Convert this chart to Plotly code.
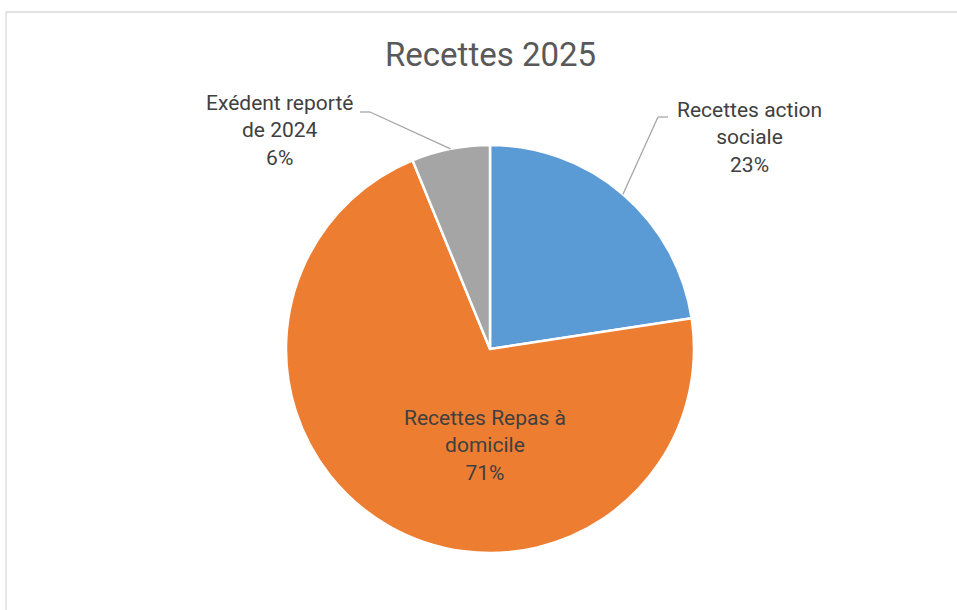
import math
import plotly.graph_objects as go

# ---- data ----
categories = ["Recettes action sociale", "Recettes Repas à domicile", "Exédent reporté de 2024"]
display_labels = ["Recettes action<br>sociale", "Recettes Repas à<br>domicile", "Exédent reporté<br>de 2024"]
values = [22.6, 71.2, 6.2]
colors = ["#5B9BD5", "#ED7D31", "#A5A5A5"]
title_text = "Recettes 2025"

# ---- layout geometry (pixels) ----
W, H = 957, 610
ML, MR, MT, MB = 80, 57, 145, 57
PW, PH = W - ML - MR, H - MT - MB
CX, CY = ML + PW / 2, MT + PH / 2
R = min(PW, PH) / 2


def px(x):
    return (x - ML) / PW


def py(y):
    return (H - MB - y) / PH


total = sum(values)
pcts = [round(v / total * 100) for v in values]

# mid-angles of slices (clockwise from 12 o'clock)
mids = []
acc = 0
for v in values:
    mids.append((acc + v / 2) / total * 2 * math.pi)
    acc += v


def edge(i):
    a = mids[i]
    return CX + R * math.sin(a), CY - R * math.cos(a)


fig = go.Figure(
    go.Pie(
        labels=categories,
        values=values,
        sort=False,
        direction="clockwise",
        rotation=0,
        marker=dict(colors=colors, line=dict(color="white", width=2.5)),
        textinfo="none",
        hoverinfo="label+percent",
        showlegend=False,
    )
)

label_font = dict(family="Roboto", size=21, color="#404040")
# label placements (pixel centers)
label_pos = {0: (749, 137), 1: (485, 445), 2: (279, 131)}
annotations = [
    dict(text=title_text, x=px(CX), y=py(55), xref="paper", yref="paper",
         showarrow=False, xanchor="center", yanchor="middle",
         font=dict(family="Roboto", size=33, color="#595959"))
]
for i in range(len(values)):
    lx, ly = label_pos[i]
    annotations.append(dict(
        text=f"{display_labels[i]}<br>{pcts[i]}%",
        x=px(lx), y=py(ly), xref="paper", yref="paper",
        showarrow=False, xanchor="center", yanchor="middle",
        align="center", font=label_font,
    ))

shapes = []
# leader lines: edge point -> elbow -> end near label
leaders = {0: [(658, 117), (668, 117)], 2: [(370, 112), (360, 112)]}
for i, pts in leaders.items():
    ex, ey = edge(i)
    path_pts = [(ex, ey)] + pts
    for (x0, y0), (x1, y1) in zip(path_pts[:-1], path_pts[1:]):
        shapes.append(dict(type="line", xref="paper", yref="paper",
                           x0=px(x0), y0=py(y0), x1=px(x1), y1=py(y1),
                           line=dict(color="#A6A6A6", width=1.3)))

# chart area border (light gray)
shapes.append(dict(type="rect", xref="paper", yref="paper",
                   x0=px(6), y0=py(12), x1=px(975), y1=py(630),
                   line=dict(color="#D9D9D9", width=1.3), layer="below"))

fig.update_layout(
    width=W, height=H,
    margin=dict(l=ML, r=MR, t=MT, b=MB),
    paper_bgcolor="white", plot_bgcolor="white",
    annotations=annotations,
    shapes=shapes,
)

fig.write_html(
    "out.html",
    config={"displayModeBar": False},
    post_script="document.body.style.margin='0';document.body.style.overflow='hidden';",
)
